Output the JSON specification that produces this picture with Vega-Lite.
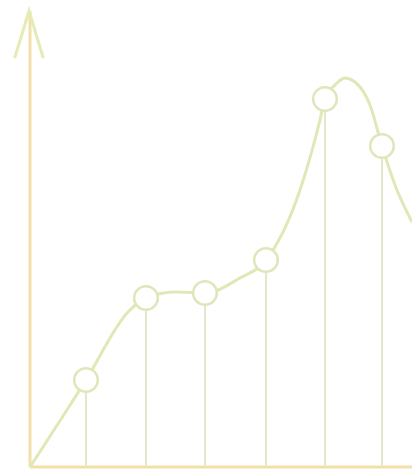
{
  "$schema": "https://vega.github.io/schema/vega-lite/v6.json",
  "width": 412,
  "height": 471,
  "padding": 0,
  "autosize": {"type": "none"},
  "background": "white",
  "config": {"view": {"stroke": null}},
  "datasets": {
    "curve": [
      {"x": 0, "y": 0}, {"x": 56, "y": 87}, {"x": 98, "y": 155}, {"x": 116, "y": 169},
      {"x": 145, "y": 175}, {"x": 175, "y": 174}, {"x": 210, "y": 189}, {"x": 236, "y": 207},
      {"x": 270, "y": 277}, {"x": 290, "y": 347}, {"x": 295, "y": 368}, {"x": 305, "y": 382},
      {"x": 315, "y": 389}, {"x": 325, "y": 385}, {"x": 340, "y": 362}, {"x": 352, "y": 321},
      {"x": 365, "y": 282}, {"x": 382, "y": 245}
    ],
    "points": [
      {"x": 56, "y": 87}, {"x": 116, "y": 169}, {"x": 175, "y": 174},
      {"x": 236, "y": 207}, {"x": 295, "y": 368}, {"x": 352, "y": 321}
    ],
    "arrow": [
      {"o": 1, "x": -15, "y": 410}, {"o": 2, "x": -1, "y": 456}, {"o": 3, "x": 13, "y": 410}
    ],
    "axes": [
      {"x": 0, "y": 0, "x2": 0, "y2": 456},
      {"x": 0, "y": 0, "x2": 382, "y2": 0}
    ]
  },
  "encoding": {
    "x": {"field": "x", "type": "quantitative", "scale": {"domain": [-30, 382], "nice": false, "zero": false}, "axis": null},
    "y": {"field": "y", "type": "quantitative", "scale": {"domain": [-4, 467], "nice": false, "zero": false}, "axis": null}
  },
  "layer": [
    {
      "data": {"name": "axes"},
      "mark": {"type": "rule", "color": "#f2e0aa", "strokeWidth": 3},
      "encoding": {"x2": {"field": "x2"}, "y2": {"field": "y2"}}
    },
    {
      "data": {"name": "arrow"},
      "mark": {"type": "line", "color": "#e6eab4", "strokeWidth": 3, "strokeCap": "round"},
      "encoding": {"order": {"field": "o"}}
    },
    {
      "data": {"name": "points"},
      "mark": {"type": "rule", "color": "#e3e8cc", "strokeWidth": 2},
      "encoding": {"y2": {"datum": 0}}
    },
    {
      "data": {"name": "curve"},
      "mark": {"type": "line", "color": "#dfe8b6", "strokeWidth": 3, "interpolate": "monotone"}
    },
    {
      "data": {"name": "points"},
      "mark": {"type": "point", "filled": true, "fill": "white", "stroke": "#dfe7ba", "strokeWidth": 2.5, "size": 560, "opacity": 1, "fillOpacity": 1}
    }
  ]
}
